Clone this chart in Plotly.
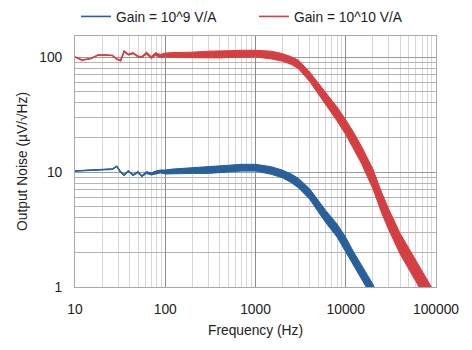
import plotly.graph_objects as go

# Frequency points (Hz)
freq = [10, 12, 15, 18, 22, 26, 29,
        32, 35, 39, 44, 50, 55, 62, 70, 78, 88,
        100, 120, 150, 200, 300, 400, 500, 700,
        1000, 1500, 2000, 2500, 3000, 4000, 5000, 6000, 8000,
        10000, 12000, 15000, 18000, 20000, 25000, 30000, 40000, 50000, 60000, 75000, 90000]

# Output noise, Gain = 10^9 V/A (uV/rtHz), band centre
gain9_noise = [10.2, 10.3, 10.4, 10.5, 10.5, 10.6, 11.2,
               10.0, 9.4, 10.2, 9.4, 10.0, 9.2, 9.9, 9.6, 9.9, 10.1,
               10.0, 10.1, 10.2, 10.3, 10.4, 10.6, 10.7, 10.9,
               10.9, 10.3, 9.6, 8.8, 8.0, 6.4, 5.0, 4.1, 3.1,
               2.35, 1.8, 1.34, 1.05, 0.92, 0.62, 0.45, 0.27, 0.18, 0.13, 0.09, 0.07]

# Output noise, Gain = 10^10 V/A (uV/rtHz), band centre
gain10_noise = [100, 94, 97, 104, 104, 103, 96,
                93, 112, 105, 108, 101, 100, 108, 99, 106, 102,
                104, 104, 104, 104, 105, 105, 106, 107,
                107, 104, 99, 93, 86, 67, 53, 43.7, 32,
                24.5, 19.2, 14.0, 10.3, 8.7, 5.4, 3.85, 2.38, 1.76, 1.37, 1.0, 0.8]

# Spread of the noisy band (ratio of band edge to centre)
gain9_spread = [1, 1, 1, 1, 1, 1, 1,
                1.01, 1.01, 1.01, 1.01, 1.01, 1.01, 1.02, 1.02, 1.03, 1.03,
                1.04, 1.05, 1.05, 1.06, 1.07, 1.07, 1.07, 1.07,
                1.07, 1.08, 1.08, 1.09, 1.10, 1.11, 1.12, 1.13, 1.14,
                1.15, 1.15, 1.15, 1.15, 1.15, 1.15, 1.15, 1.15, 1.15, 1.15, 1.15, 1.15]
gain10_spread = [1, 1, 1, 1, 1, 1, 1,
                 1.01, 1.01, 1.01, 1.01, 1.01, 1.01, 1.02, 1.02, 1.03, 1.03,
                 1.04, 1.05, 1.05, 1.06, 1.07, 1.07, 1.07, 1.07,
                 1.07, 1.08, 1.08, 1.08, 1.09, 1.10, 1.11, 1.13, 1.15,
                 1.16, 1.18, 1.19, 1.21, 1.22, 1.23, 1.23, 1.23, 1.23, 1.23, 1.23, 1.23]

series = [
    ("Gain = 10^9 V/A", gain9_noise, gain9_spread, "#28609c", "legend"),
    ("Gain = 10^10 V/A", gain10_noise, gain10_spread, "#d43f42", "legend2"),
]

FONT = "Liberation Sans, Arial, Helvetica, sans-serif"
FS = 13.8

fig = go.Figure()
for name, vals, spread, color, leg in series:
    upper = [v * s for v, s in zip(vals, spread)]
    lower = [v / s for v, s in zip(vals, spread)]
    fig.add_trace(go.Scatter(
        x=freq + freq[::-1], y=upper + lower[::-1],
        fill="toself", fillcolor=color, mode="lines",
        line=dict(color=color, width=1), showlegend=False, hoverinfo="skip"))
    fig.add_trace(go.Scatter(
        x=freq, y=vals, mode="lines", name=name, legend=leg,
        line=dict(color=color, width=1.6)))

axis_common = dict(
    type="log", showline=True, mirror=True, linecolor="#a8a8a8", linewidth=1,
    ticks="outside", ticklen=9, tickcolor="rgba(0,0,0,0)", zeroline=False,
    tickfont=dict(family=FONT, size=FS, color="#222"), automargin=False,
)

fig.update_xaxes(
    **axis_common, range=[1, 5], dtick=1,
    tickvals=[10, 100, 1000, 10000, 100000],
    ticktext=["10", "100", "1000", "10000", "100000"],
    showgrid=True, gridcolor="#8c8c8c", gridwidth=1,
    minor=dict(showgrid=True, gridcolor="#d6d6d6", gridwidth=1, dtick="D1"),
    title=dict(text="Frequency (Hz)", font=dict(family=FONT, size=FS, color="#222"), standoff=9),
)
fig.update_yaxes(
    **axis_common, range=[0, 2.1826], dtick=1,
    tickvals=[1, 10, 100], ticktext=["1", "10", "100"],
    showgrid=True, gridcolor="#9a9a9a", gridwidth=1,
    minor=dict(showgrid=True, gridcolor="#b4b4b4", gridwidth=1, dtick="D1"),
    title=dict(text="Output Noise (µV/√Hz)", font=dict(family=FONT, size=FS, color="#222"), standoff=8),
)

legend_common = dict(orientation="h", xref="container", yref="container",
                     xanchor="left", yanchor="middle", y=0.953,
                     font=dict(family=FONT, size=FS, color="#222"),
                     itemwidth=30, bgcolor="rgba(0,0,0,0)")

fig.update_layout(
    width=472, height=350,
    margin=dict(l=75, r=36, t=36, b=63, autoexpand=False),
    plot_bgcolor="white", paper_bgcolor="white",
    font=dict(family=FONT, size=FS, color="#222"),
    legend=dict(**legend_common, x=0.161),
    legend2=dict(**legend_common, x=0.538),
)

fig.write_html("out.html")
